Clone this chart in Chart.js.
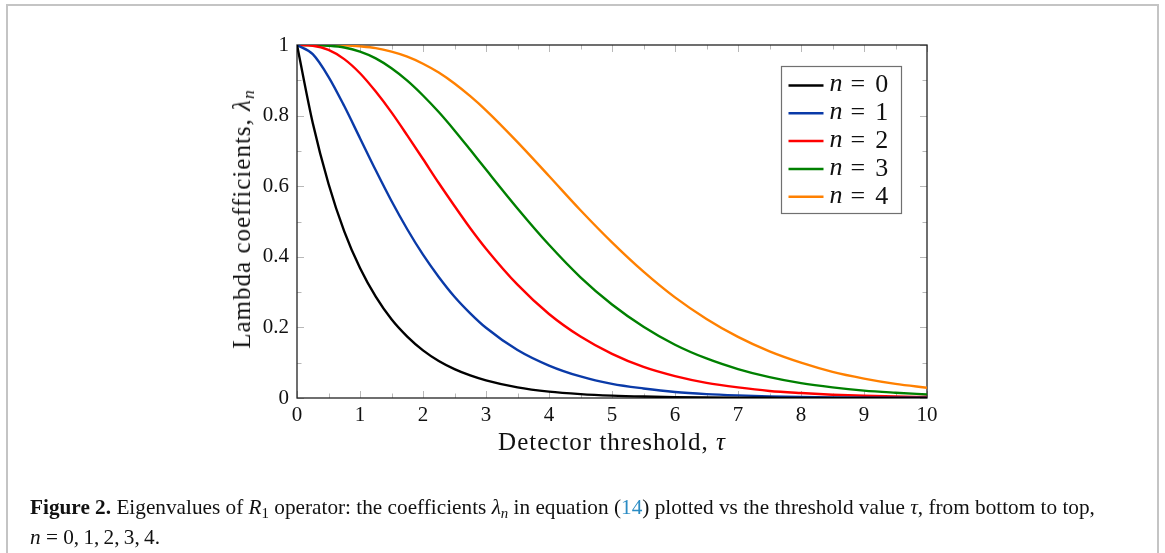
<!DOCTYPE html>
<html>
<head>
<meta charset="utf-8">
<script src="https://cdn.jsdelivr.net/npm/chart.js@4"></script>
<style>
  html, body { margin: 0; padding: 0; background: #fff; }
  body { width: 1165px; height: 553px; position: relative; overflow: hidden; font-family: "Liberation Serif", serif; }
  #frame { position: absolute; left: 6px; top: 4px; width: 1153px; height: 580px; border: 2px solid #c4c4c4; box-sizing: border-box; }
  #wrap { position: absolute; left: 0; top: 0; width: 1165px; height: 553px; }
  .ytitle { position: absolute; left: 242px; top: 219px; transform: translate(-50%, -50%) rotate(-90deg); white-space: nowrap; font-size: 25px; letter-spacing: 1px; color: #111; }
  .xtitle { position: absolute; left: 612px; top: 442px; transform: translate(-50%, -50%); white-space: nowrap; font-size: 25px; letter-spacing: 1px; color: #111; }
  .caption { position: absolute; left: 30px; top: 492px; font-size: 21.25px; line-height: 30px; color: #111; white-space: nowrap; }
  .caption .ref { color: #2b8cc4; }
  sub { font-size: 70%; vertical-align: -0.25em; line-height: 0; }
</style>
</head>
<body>
<div id="frame"></div>
<div id="wrap"><canvas id="lambdaChart" width="1165" height="553"></canvas></div>
<div class="ytitle">Lambda coefficients, <i>λ</i><sub><i>n</i></sub></div>
<div class="xtitle">Detector threshold, <i>τ</i></div>
<div class="caption"><b>Figure 2.</b> Eigenvalues of <i>R</i><sub>1</sub> operator: the coefficients <i>λ</i><sub><i>n</i></sub> in equation (<span class="ref">14</span>) plotted vs the threshold value <i>τ</i>, from bottom to top,<br><i>n</i> = 0,&thinsp;1,&thinsp;2,&thinsp;3,&thinsp;4.</div>
<script>
// threshold values tau (x axis)
const tau = [0, 0.25, 0.5, 0.75, 1, 1.25, 1.5, 1.75, 2, 2.25, 2.5, 2.75, 3, 3.5, 4, 4.5, 5, 5.5, 6, 6.5, 7, 7.5, 8, 8.5, 9, 9.5, 10];

// lambda_n
const lambda0 = [1, 0.779, 0.607, 0.472, 0.368, 0.287, 0.223, 0.174, 0.135, 0.105, 0.082, 0.064, 0.050, 0.030, 0.018, 0.011, 0.0067, 0.0041, 0.0025, 0.0015, 0.0009, 0.0006, 0.0003, 0.0002, 0.0001, 0.0001, 0.0000];
const lambda1 = [1, 0.974, 0.910, 0.827, 0.736, 0.645, 0.558, 0.478, 0.406, 0.343, 0.287, 0.240, 0.199, 0.136, 0.092, 0.061, 0.040, 0.027, 0.017, 0.011, 0.0073, 0.0047, 0.0030, 0.0019, 0.0012, 0.0008, 0.0005];
const lambda2 = [1, 0.998, 0.986, 0.960, 0.920, 0.868, 0.809, 0.744, 0.677, 0.609, 0.544, 0.481, 0.423, 0.321, 0.238, 0.174, 0.125, 0.088, 0.062, 0.043, 0.030, 0.020, 0.014, 0.0093, 0.0062, 0.0042, 0.0028];
const lambda3 = [1, 1.000, 0.998, 0.993, 0.981, 0.962, 0.934, 0.899, 0.857, 0.810, 0.758, 0.703, 0.647, 0.537, 0.434, 0.342, 0.265, 0.202, 0.151, 0.112, 0.082, 0.059, 0.042, 0.030, 0.021, 0.015, 0.010];
const lambda4 = [1, 1.000, 1.000, 0.999, 0.996, 0.991, 0.981, 0.967, 0.947, 0.922, 0.891, 0.855, 0.815, 0.725, 0.629, 0.532, 0.441, 0.358, 0.285, 0.224, 0.173, 0.132, 0.100, 0.074, 0.055, 0.040, 0.029];

const seriesLabels = ['n = 0', 'n = 1', 'n = 2', 'n = 3', 'n = 4'];
const seriesColors = ['#000000', '#0a3aa8', '#ff0000', '#008000', '#ff8000'];
const seriesValues = [lambda0, lambda1, lambda2, lambda3, lambda4];

const SERIF = '"Liberation Serif", "DejaVu Serif", serif';

// inner tick marks (major + minor), box round the plot, legend
const axisBox = {
  id: 'axisBox',
  beforeDatasetsDraw(chart) {
    const { ctx, chartArea: a, scales } = chart;
    ctx.save();
    ctx.strokeStyle = '#b8b8b8';
    ctx.lineWidth = 1;
    const xs = scales.x.ticks.map(t => t.value);
    const ys = scales.y.ticks.map(t => t.value);
    const xt = [], yt = [];
    xs.forEach((v, i) => { xt.push([v, 7]); if (i < xs.length - 1) xt.push([(v + xs[i + 1]) / 2, 4.5]); });
    ys.forEach((v, i) => { yt.push([v, 7]); if (i < ys.length - 1) yt.push([(v + ys[i + 1]) / 2, 4.5]); });
    ctx.beginPath();
    xt.forEach(([v, len]) => {
      const px = Math.round(scales.x.getPixelForValue(v)) + 0.5;
      ctx.moveTo(px, a.bottom); ctx.lineTo(px, a.bottom - len);
      ctx.moveTo(px, a.top); ctx.lineTo(px, a.top + len);
    });
    yt.forEach(([v, len]) => {
      const py = Math.round(scales.y.getPixelForValue(v)) + 0.5;
      ctx.moveTo(a.left, py); ctx.lineTo(a.left + len, py);
      ctx.moveTo(a.right, py); ctx.lineTo(a.right - len, py);
    });
    ctx.stroke();
    ctx.strokeStyle = '#222';
    ctx.lineWidth = 1.3;
    ctx.strokeRect(a.left, a.top, a.right - a.left, a.bottom - a.top);
    ctx.restore();
  },
  afterDatasetsDraw(chart) {
    const { ctx, chartArea: a } = chart;
    const w = 120, h = 147;
    const left = a.right - 26 - w + 0.5, top = a.top + 21 + 0.5;
    ctx.save();
    ctx.fillStyle = '#fff';
    ctx.fillRect(left, top, w, h);
    ctx.strokeStyle = '#707070';
    ctx.lineWidth = 1.2;
    ctx.strokeRect(left, top, w, h);
    chart.data.datasets.forEach((ds, i) => {
      const y = top + 19 + i * 27.8;
      ctx.strokeStyle = ds.borderColor;
      ctx.lineWidth = 2.5;
      ctx.beginPath();
      ctx.moveTo(left + 7, y); ctx.lineTo(left + 42, y);
      ctx.stroke();
      const parts = ds.label.split(' = ');
      ctx.fillStyle = '#111';
      ctx.textBaseline = 'middle';
      ctx.font = 'italic 26px ' + SERIF;
      let x = left + 48;
      ctx.fillText(parts[0], x, y - 1);
      x += ctx.measureText(parts[0]).width + 8;
      ctx.font = '26px ' + SERIF;
      ctx.fillText('=', x, y);
      x += ctx.measureText('=').width + 10;
      ctx.fillText(parts[1], x, y);
    });
    ctx.restore();
  }
};

const datasets = seriesValues.map((vals, i) => ({
  label: seriesLabels[i],
  data: tau.map((t, j) => ({ x: t, y: vals[j] })),
  borderColor: seriesColors[i],
  backgroundColor: seriesColors[i],
  borderWidth: 2.4,
  pointRadius: 0,
  cubicInterpolationMode: 'monotone',
  fill: false,
}));

const config = {
  type: 'line',
  data: { datasets: datasets },
  options: {
    responsive: false,
    animation: false,
    events: [],
    layout: { padding: { left: 237, top: 45, right: 238, bottom: 110 } },
    plugins: { legend: { display: false }, tooltip: { enabled: false } },
    scales: {
      x: {
        type: 'linear',
        min: 0,
        max: 10,
        afterFit: s => { s.height = 45; },
        grid: { display: false },
        border: { display: false },
        ticks: { stepSize: 1, padding: -3, color: '#111', font: { family: SERIF, size: 21 }, maxRotation: 0 },
      },
      y: {
        min: 0,
        max: 1,
        afterFit: s => { s.width = 60; },
        grid: { display: false },
        border: { display: false },
        ticks: {
          stepSize: 0.2, padding: 0, color: '#111', font: { family: SERIF, size: 21 },
          callback: v => String(+v.toFixed(1)),
        },
      }
    }
  },
  plugins: [axisBox]
};

new Chart(document.getElementById('lambdaChart').getContext('2d'), config);
</script>
</body>
</html>
